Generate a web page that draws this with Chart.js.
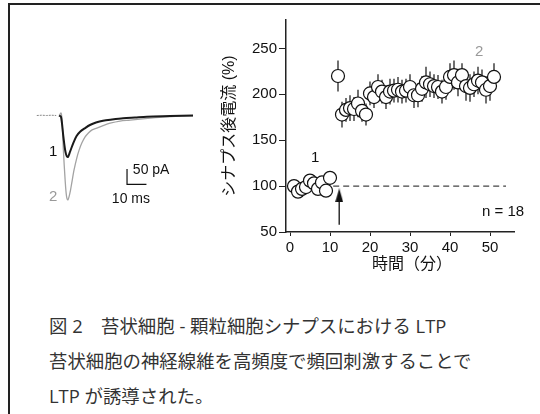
<!DOCTYPE html>
<html lang="ja">
<head>
<meta charset="utf-8">
<script src="https://cdn.jsdelivr.net/npm/chart.js@4.4.1/dist/chart.umd.min.js"></script>
<style>
  html, body { margin: 0; padding: 0; background: #fff; }
  body { width: 540px; height: 414px; position: relative; overflow: hidden; }
  #frame { position: absolute; left: 8px; top: 3px; width: 600px; height: 500px;
           border-left: 2px solid #222; border-top: 2px solid #222; }
  #traceBox { position: absolute; left: 30px; top: 100px; width: 170px; height: 120px; }
  #ltpBox { position: absolute; left: 200px; top: 0; width: 340px; height: 290px; }
  #caption { position: absolute; left: 49px; top: 308px; color: #333; white-space: nowrap;
             font-family: 'Open Sans', 'Noto Sans CJK JP', sans-serif; font-size: 18.4px; line-height: 35px; }
</style>
</head>
<body>
<div id="frame"></div>
<div id="traceBox"><canvas id="traceChart" width="170" height="120"></canvas></div>
<div id="ltpBox"><canvas id="ltpChart" width="340" height="290"></canvas></div>
<div id="caption">
  図 2　苔状細胞 - 顆粒細胞シナプスにおける LTP<br>
  苔状細胞の神経線維を高頻度で頻回刺激することで<br>
  LTP が誘導された。
</div>

<script>
// --- LTP time course (minutes, % of baseline, SEM) ---
const baseTimes = [1, 2, 3, 4, 5, 6, 7, 8, 9, 10];
const baseValues = [100, 94, 97, 99, 106, 103, 97, 104, 95, 109];
const baseErrors = [4, 4, 3, 4, 4, 4, 4, 4, 4, 4];

const postTimes = [12, 13, 14, 15, 16, 17, 18, 19, 20, 21, 22, 23, 24, 25, 26, 27, 28, 29, 30, 31,
                   32, 33, 34, 35, 36, 37, 38, 39, 40, 41, 42, 43, 44, 45, 46, 47, 48, 49, 50, 51];
const postValues = [220, 178, 183, 185, 184, 190, 182, 178, 201, 197, 208, 203, 197, 203, 204, 205, 203, 204, 208, 199,
                    199, 206, 213, 211, 209, 208, 203, 208, 219, 221, 213, 221, 209, 207, 211, 215, 213, 205, 209, 219];
const postErrors = [17, 14, 13, 14, 13, 15, 12, 12, 13, 12, 14, 13, 13, 14, 13, 14, 13, 13, 14, 14,
                    13, 14, 17, 14, 13, 13, 13, 14, 15, 16, 15, 13, 16, 15, 14, 15, 14, 15, 16, 15];

const xTicks = [0, 10, 20, 30, 40, 50];
const yTicks = [50, 100, 150, 200, 250];

const refLineTimes = [10.8, 54];
const refLineValues = [100, 100];
const arrowTimes = [12.3, 12.3];
const arrowValues = [58, 90];

// --- example EPSC traces (ms, pA) ---
const preMs = [-12.5, -10, -7.5, -5, -2.5];
const prePA = [0, 1, 0, 1, 0];

const trace1Ms = [-1, 0, 1.2, 2.3, 3.45, 4.6, 6.3, 8, 9.8, 12.4, 14.9, 18, 21.6, 26.3, 32, 38.1, 44.2, 56.2, 68];
const trace1PA = [0, -5, -69, -119, -136, -119, -90, -67, -53, -41, -31, -23, -17, -13, -9, -6.5, -4, -2, 0];

const trace2Ms = [-1, 0, 0.5, 1.2, 2.1, 2.8, 3.45, 4.1, 4.9, 5.5, 6.7, 8.1, 9.3, 10.7, 12.4, 14.1, 16, 18.4, 21.6,
                  25.3, 30.4, 35.6, 43.3, 52.6, 61.3, 68];
const trace2PA = [0, 8, -15, -113, -211, -263, -276, -266, -243, -221, -178, -139, -113, -90, -70, -57, -47, -41, -33,
                  -25, -18, -15, -10, -5, -2, -1];

const scaleBarMs = [34, 34, 44];
const scaleBarPA = [-175, -225, -225];

const zip = (xs, ys) => xs.map((x, i) => ({ x: x, y: ys[i] }));

const latin = "'Liberation Sans', 'Noto Sans CJK JP', sans-serif";

// traces
const traceLabels = {
  id: 'traceLabels',
  afterDraw(chart) {
    const { ctx, scales: { x, y } } = chart;
    ctx.save();
    ctx.font = '15px ' + latin;
    ctx.textBaseline = 'middle';
    ctx.textAlign = 'center';
    ctx.fillStyle = '#111';
    ctx.fillText('1', x.getPixelForValue(-4), y.getPixelForValue(-118));
    ctx.fillStyle = '#999';
    ctx.fillText('2', x.getPixelForValue(-4), y.getPixelForValue(-266));
    ctx.font = '14px ' + latin;
    ctx.fillStyle = '#111';
    ctx.fillText('10 ms', x.getPixelForValue(36), y.getPixelForValue(-273));
    ctx.textAlign = 'left';
    ctx.fillText('50 pA', x.getPixelForValue(37), y.getPixelForValue(-180));
    ctx.restore();
  }
};

new Chart(document.getElementById('traceChart'), {
  type: 'line',
  data: {
    datasets: [
      { data: zip(trace1Ms, trace1PA), borderColor: '#1a1a1a', borderWidth: 2, tension: 0.3 },
      { data: zip(trace2Ms, trace2PA), borderColor: '#a3a3a3', borderWidth: 1.3, tension: 0.3 },
      { data: zip(preMs, prePA), borderColor: '#888', borderWidth: 1, borderDash: [2, 1] },
      { data: zip(scaleBarMs, scaleBarPA), borderColor: '#111', borderWidth: 1.2 }
    ]
  },
  options: {
    responsive: false,
    animation: false,
    events: [],
    layout: { padding: 0 },
    elements: { point: { radius: 0 } },
    plugins: { legend: { display: false }, tooltip: { enabled: false } },
    scales: {
      x: { type: 'linear', display: false, min: -16, max: 71.6 },
      y: { type: 'linear', display: false, min: -341.5, max: 50.7 }
    }
  },
  plugins: [traceLabels]
});

// arrow head
const head = document.createElement('canvas');
head.width = 8;
head.height = 14;
const hctx = head.getContext('2d');
hctx.fillStyle = '#111';
hctx.beginPath();
hctx.moveTo(4, 0);
hctx.lineTo(8, 14);
hctx.lineTo(0, 14);
hctx.closePath();
hctx.fill();

const allErrors = baseErrors.concat(postErrors);

const errorBars = {
  id: 'errorBars',
  beforeDatasetsDraw(chart) {
    const { ctx, scales: { x, y } } = chart;
    const pts = chart.data.datasets[0].data;
    ctx.save();
    ctx.strokeStyle = '#111';
    ctx.lineWidth = 1.2;
    pts.forEach((p, i) => {
      const px = x.getPixelForValue(p.x);
      ctx.beginPath();
      ctx.moveTo(px, y.getPixelForValue(p.y + allErrors[i]));
      ctx.lineTo(px, y.getPixelForValue(p.y - allErrors[i]));
      ctx.stroke();
    });
    ctx.restore();
  }
};

const ltpLabels = {
  id: 'ltpLabels',
  afterDraw(chart) {
    const { ctx, scales: { x, y } } = chart;
    ctx.save();
    ctx.textBaseline = 'middle';
    ctx.textAlign = 'center';
    ctx.font = '15px ' + latin;
    ctx.fillStyle = '#111';
    ctx.fillText('1', x.getPixelForValue(6.3), y.getPixelForValue(131));
    ctx.fillStyle = '#999';
    ctx.fillText('2', x.getPixelForValue(47.3), y.getPixelForValue(246));
    ctx.fillStyle = '#111';
    ctx.textAlign = 'left';
    ctx.fillText('n = 18', x.getPixelForValue(48), y.getPixelForValue(72));
    // x axis title, sits a bit right of centre in the original
    ctx.textAlign = 'center';
    ctx.font = '16px ' + latin;
    ctx.fillText('時間（分）', x.getPixelForValue(30.5), 265);
    ctx.restore();
  }
};

new Chart(document.getElementById('ltpChart'), {
  type: 'scatter',
  data: {
    datasets: [
      {
        data: zip(baseTimes.concat(postTimes), baseValues.concat(postValues)),
        pointRadius: 6.5,
        pointBackgroundColor: '#fff',
        pointBorderColor: '#111',
        pointBorderWidth: 1.2
      },
      {
        data: zip(refLineTimes, refLineValues),
        showLine: true,
        borderColor: '#444',
        borderWidth: 1.2,
        borderDash: [6, 4],
        pointRadius: 0
      },
      {
        data: zip(arrowTimes, arrowValues),
        showLine: true,
        borderColor: '#111',
        borderWidth: 1.3,
        pointRadius: [0, 7],
        pointStyle: head
      }
    ]
  },
  options: {
    responsive: false,
    animation: false,
    events: [],
    layout: { padding: { top: 20, right: 26, bottom: 0, left: 0 } },
    plugins: { legend: { display: false }, tooltip: { enabled: false } },
    scales: {
      x: {
        type: 'linear',
        min: -1,
        max: 56,
        afterFit: s => { s.height = 58; },
        afterBuildTicks: s => { s.ticks = xTicks.map(v => ({ value: v })); },
        ticks: { font: { size: 15, family: latin }, color: '#111', padding: 3 },
        grid: { drawOnChartArea: false, drawTicks: true, tickLength: 4, color: '#222' },
        border: { color: '#222', width: 1.5 }
      },
      y: {
        min: 50,
        max: 281,
        afterFit: s => { s.width = 86; },
        afterBuildTicks: s => { s.ticks = yTicks.map(v => ({ value: v })); },
        ticks: { font: { size: 15, family: latin }, color: '#111', padding: 2 },
        grid: { drawOnChartArea: false, drawTicks: true, tickLength: 7, color: '#222' },
        border: { color: '#222', width: 1.5 },
        title: {
          display: true,
          text: 'シナプス後電流 (%)',
          font: { size: 16, family: latin },
          color: '#111',
          padding: { top: 20, bottom: 0 }
        }
      }
    }
  },
  plugins: [errorBars, ltpLabels]
});
</script>
</body>
</html>
